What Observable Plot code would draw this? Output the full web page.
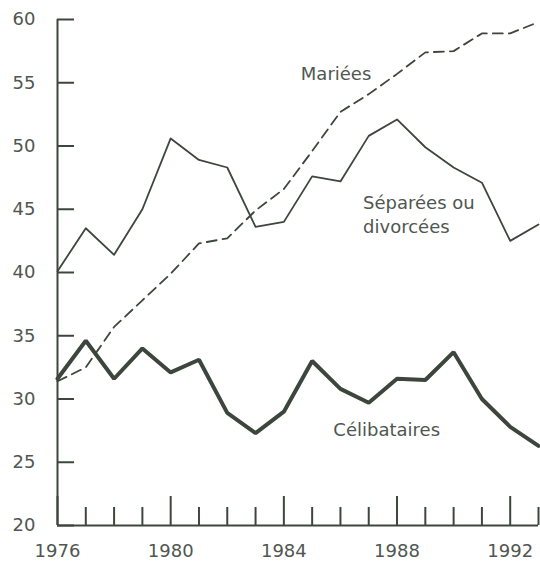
<!DOCTYPE html>
<html>
<head>
<meta charset="utf-8">
<script src="https://cdn.jsdelivr.net/npm/d3@7"></script>
<script src="https://cdn.jsdelivr.net/npm/@observablehq/plot@0.6"></script>
<style>
  html, body { margin: 0; padding: 0; background: #ffffff; }
  #chart { width: 540px; height: 562px; }
</style>
</head>
<body>
<div id="chart"></div>
<script>
const years = [1976,1977,1978,1979,1980,1981,1982,1983,1984,1985,1986,1987,1988,1989,1990,1991,1992,1993];
const mariees = [31.4,32.5,35.7,37.8,39.9,42.3,42.7,44.9,46.6,49.6,52.7,54.1,55.7,57.4,57.5,58.9,58.9,59.8];
const separees = [40.1,43.5,41.4,45.0,50.6,48.9,48.3,43.6,44.0,47.6,47.2,50.8,52.1,49.9,48.3,47.1,42.5,43.8];
const celibataires = [31.6,34.6,31.6,34.0,32.1,33.1,28.9,27.3,29.0,33.0,30.8,29.7,31.6,31.5,33.7,30.0,27.8,26.3];
const yTicks = [20,25,30,35,40,45,50,55,60];
const xMajor = [1976,1980,1984,1988,1992];
const xMinor = [1977,1978,1979,1981,1982,1983,1985,1986,1987,1989,1990,1991,1993];
const labelText = ["Mariées", "Séparées ou", "divorcées", "Célibataires"];
const labelYear = [1984.6, 1986.8, 1986.8, 1985.75];
const labelValue = [55.2, 45.05, 43.15, 27.1];

const lineColor = "#3d463d";
const textColor = "#505650";

const rows = (vals) => years.map((y, i) => ({year: y, value: vals[i]}));
const labels = labelText.map((t, i) => ({text: t, year: labelYear[i], value: labelValue[i]}));

const W = 540, H = 562, mL = 57, mR = 2, mT = 19, mB = 37;
const frameW = W - mL - mR, frameH = H - mT - mB;

const chart = Plot.plot({
  width: W,
  height: H,
  marginLeft: mL,
  marginRight: mR,
  marginTop: mT,
  marginBottom: mB,
  style: {fontFamily: "'DejaVu Sans', sans-serif", fontSize: "18px", color: textColor, background: "#ffffff"},
  x: {domain: [1976, 1993]},
  y: {domain: [20, 60]},
  marks: [
    Plot.axisY({ticks: yTicks, tickSize: 0, tickPadding: 22, label: null, fontSize: 18, fill: textColor}),
    Plot.axisX({ticks: xMajor, tickSize: 0, tickPadding: 19, tickFormat: d => String(d), label: null, fontSize: 18, fill: textColor}),
    Plot.ruleY(yTicks, {stroke: lineColor, strokeWidth: 2, insetRight: frameW - 17}),
    Plot.ruleX(xMajor, {stroke: lineColor, strokeWidth: 2, insetTop: frameH - 29}),
    Plot.ruleX(xMinor, {stroke: lineColor, strokeWidth: 2, insetTop: frameH - 18}),
    Plot.ruleY([20], {stroke: lineColor, strokeWidth: 2}),
    Plot.ruleX([1976], {stroke: lineColor, strokeWidth: 2}),
    Plot.line(rows(mariees), {x: "year", y: "value", stroke: lineColor, strokeWidth: 1.8, strokeDasharray: "10,6"}),
    Plot.line(rows(separees), {x: "year", y: "value", stroke: lineColor, strokeWidth: 1.8}),
    Plot.line(rows(celibataires), {x: "year", y: "value", stroke: lineColor, strokeWidth: 4, strokeLinejoin: "miter"}),
    Plot.text(labels, {x: "year", y: "value", text: "text", textAnchor: "start", lineAnchor: "bottom", fontSize: 18, fill: textColor})
  ]
});
document.getElementById("chart").appendChild(chart);
</script>
</body>
</html>
